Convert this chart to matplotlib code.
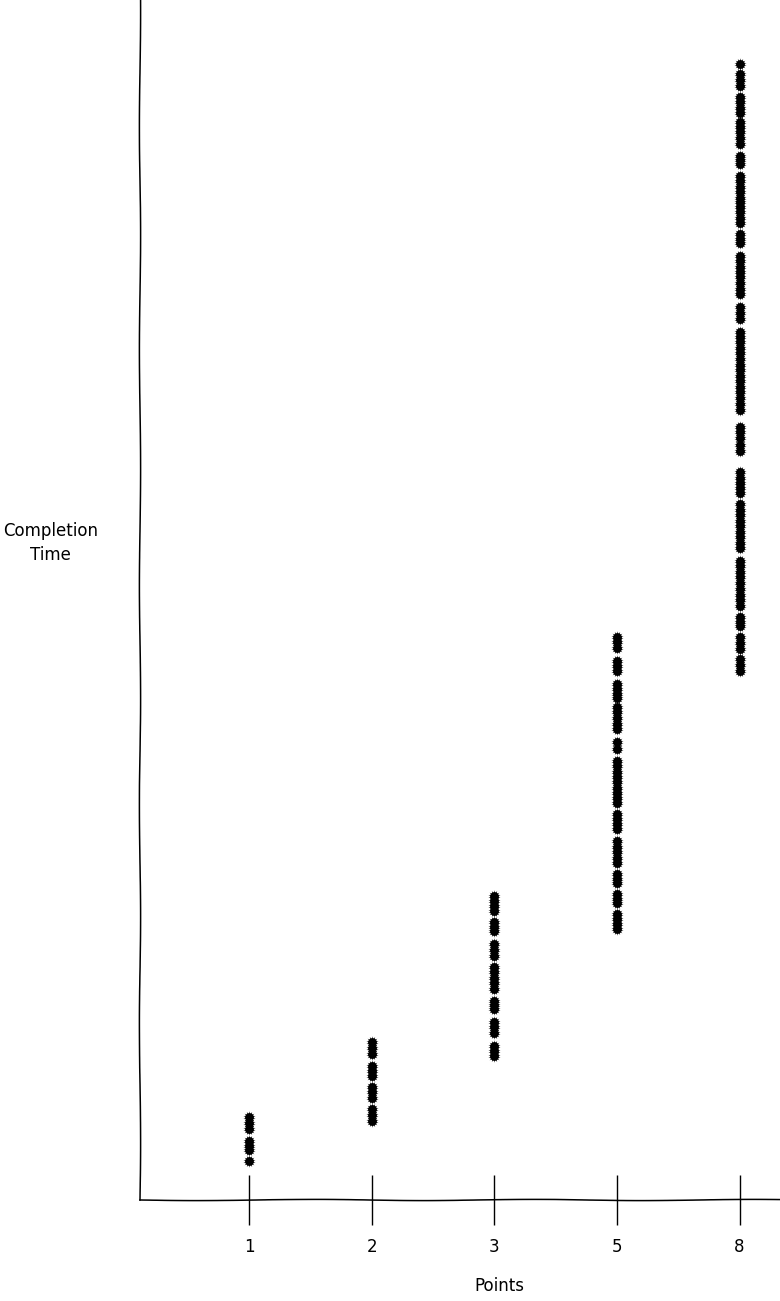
import numpy as np
import matplotlib
matplotlib.use('Agg')
import matplotlib.pyplot as plt

# categories on the x axis
points = ['1', '2', '3', '5', '8']

# completion time of every run, one list per category
times_1 = [8.3, 7.7, 7.1, 5.9, 5.4, 5.0, 3.9]
times_2 = [15.8, 15.2, 14.6, 13.4, 12.9, 12.4, 11.3, 10.8, 10.2, 9.1, 8.5, 7.9]
times_3 = [30.4, 29.9, 29.4, 28.9, 27.8, 27.3, 26.9, 25.6, 25.0, 24.4,
           23.3, 22.8, 22.2, 21.7, 21.1, 19.9, 19.5, 19.1, 17.8, 17.3, 16.7,
           15.4, 14.9, 14.4]
times_5 = [56.3, 55.8, 55.2, 53.9, 53.4, 52.9, 51.6, 51.1, 50.6, 50.2,
           49.3, 48.8, 48.2, 47.6, 47.1, 45.8, 45.1,
           43.9, 43.4, 42.8, 42.3, 41.8, 41.2, 40.7, 40.2, 39.7,
           38.6, 38.1, 37.6, 37.1, 35.9, 35.3, 34.8, 34.2, 33.7,
           32.6, 32.1, 31.7, 30.6, 30.1, 29.7, 28.6, 28.1, 27.6, 27.1]
times_8 = [113.6, 112.6, 112.0, 111.4, 110.3, 109.8, 109.2, 108.7,
           107.8, 107.3, 106.8, 106.2, 105.6, 104.4, 104.0, 103.6,
           102.4, 101.9, 101.3, 100.8, 100.2, 99.8, 99.3, 98.8, 98.2, 97.7,
           96.6, 96.1, 95.7, 94.4, 93.9, 93.3, 92.8, 92.3, 91.7, 91.1, 90.6,
           89.3, 88.7, 88.1,
           86.8, 86.3, 85.8, 85.2, 84.7, 84.1, 83.5, 83.0, 82.4, 81.9,
           81.3, 80.8, 80.2, 79.6, 79.0,
           77.3, 76.8, 76.2, 75.5, 74.9, 72.8, 72.2, 71.7, 71.2, 70.7,
           69.6, 69.0, 68.5, 67.9, 67.4, 66.8, 66.3, 65.7, 65.2,
           63.9, 63.4, 62.8, 62.3, 61.7, 61.1, 60.5, 60.0, 59.4,
           58.3, 57.8, 57.4, 56.3, 55.7, 55.1, 54.1, 53.5, 52.9]

all_times = [times_1, times_2, times_3, times_5, times_8]

plt.xkcd(scale=0.6, length=250, randomness=2)
plt.rcParams['font.family'] = ['DejaVu Sans']
plt.rcParams['path.effects'] = []
plt.rcParams['axes.linewidth'] = 1.1

fig = plt.figure(figsize=(7.8, 13.01), dpi=100)
ax = fig.add_axes([140 / 780, 101 / 1301, 640 / 780, 1200 / 1301])

for i, t in enumerate(all_times):
    # solid core plus a spiky star on top for the scribbled look
    ax.scatter([i] * len(t), t, s=40, color='black', linewidths=0, zorder=3)
    ax.scatter([i] * len(t), t, s=80, marker=(14, 1, 0), color='black',
               linewidths=0, zorder=3)

ax.set_xlim(-0.89, 4.33)
ax.set_ylim(0, 120)

ax.spines['top'].set_visible(False)
ax.spines['right'].set_visible(False)

ax.set_xticks(range(len(points)))
ax.set_xticklabels(points, fontsize=12)
ax.tick_params(axis='x', direction='inout', length=36, width=1, pad=9)
ax.set_yticks([])

ax.set_xlabel('Points', fontsize=12)
ax.xaxis.set_label_coords(0.561, -0.064)
ax.set_ylabel('Completion\nTime', fontsize=12, rotation=0, ha='center',
              va='center', linespacing=1.5)
ax.yaxis.set_label_coords(-0.14, 0.5475)

fig.savefig('out.png', dpi=100)
